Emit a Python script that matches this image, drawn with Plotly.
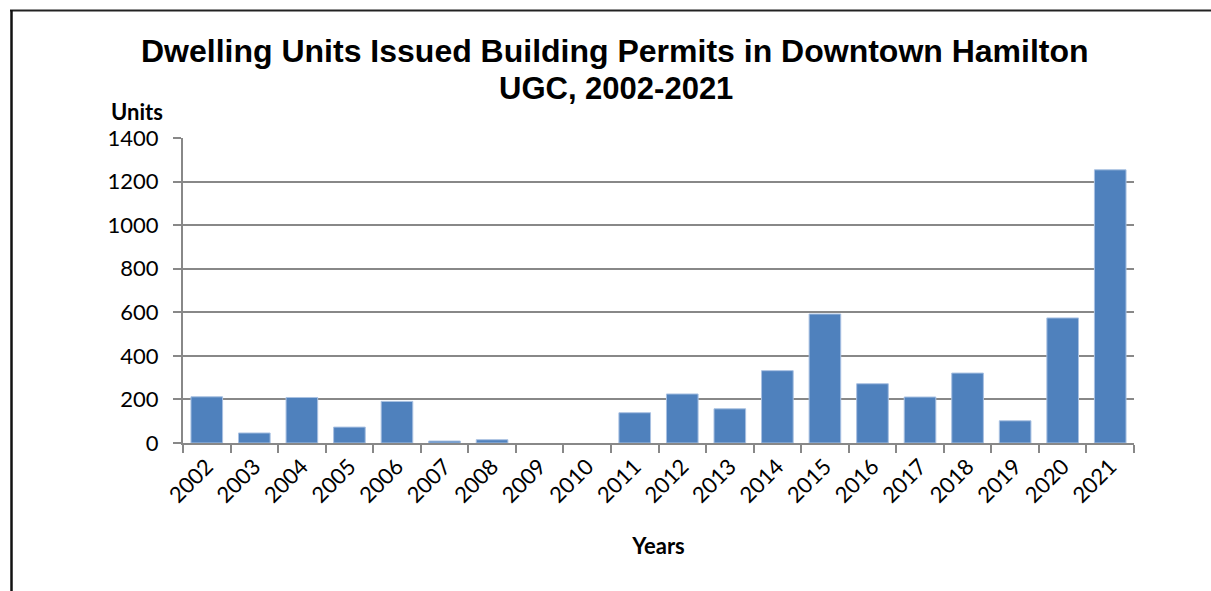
import plotly.graph_objects as go

years = ["2002", "2003", "2004", "2005", "2006", "2007", "2008", "2009", "2010", "2011",
         "2012", "2013", "2014", "2015", "2016", "2017", "2018", "2019", "2020", "2021"]
units = [212, 46, 209, 73, 191, 9, 15, 0, 0, 139,
         225, 157, 332, 592, 272, 211, 321, 102, 574, 1254]
y_ticks = [0, 200, 400, 600, 800, 1000, 1200, 1400]
title_lines = ["Dwelling Units Issued Building Permits in Downtown Hamilton", "UGC, 2002-2021"]

W, H = 1211, 591
L, R, T, B = 183, 77, 138, 148
pw, ph = W - L - R, H - T - B

def px(x):
    return (x - L) / pw

def py(y):
    return (H - B - y) / ph

fig = go.Figure(go.Bar(
    x=years, y=units,
    marker=dict(color="#4F81BD",
                line=dict(color="#A9C1E2", width=[0 if v == 0 else 1 for v in units])),
))

annotations = [
    dict(text="<b>" + title_lines[0] + "</b>", x=px(615), y=py(51), xref="paper", yref="paper",
         showarrow=False, font=dict(family="Liberation Sans, Arial", size=32, color="black"),
         xanchor="center", yanchor="middle"),
    dict(text="<b>" + title_lines[1] + "</b>", x=px(616), y=py(88), xref="paper", yref="paper",
         showarrow=False, font=dict(family="Liberation Sans, Arial", size=31, color="black"),
         xanchor="center", yanchor="middle"),
    dict(text="<b>Units</b>", x=px(137), y=py(112), xref="paper", yref="paper",
         showarrow=False, font=dict(size=22, family="Lato", color="black"),
         xanchor="center", yanchor="middle"),
]

fig.update_layout(
    width=W, height=H,
    margin=dict(l=L, r=R, t=T, b=B),
    paper_bgcolor="white", plot_bgcolor="white",
    bargap=0.335,
    showlegend=False,
    font=dict(family="Lato, Carlito, Calibri", color="black"),
    xaxis=dict(
        type="category",
        tickangle=-45,
        tickfont=dict(size=22, family="Lato", color="black"),
        showline=True, linecolor="#888888", linewidth=2,
        ticks="outside", ticklen=8, tickcolor="#888888", tickwidth=2,
        tickson="boundaries",
        showgrid=False,
        title=dict(text="<b>Years</b>", font=dict(size=22, family="Lato"), standoff=32),
    ),
    yaxis=dict(
        range=[0, 1400],
        tickvals=y_ticks,
        tickfont=dict(size=22, family="Lato", color="black"),
        ticklabelstandoff=10,
        showline=True, linecolor="#888888", linewidth=2,
        ticks="outside", ticklen=8, tickcolor="#888888", tickwidth=2,
        showgrid=True, gridcolor="#888888", gridwidth=2,
        zeroline=False,
    ),
    annotations=annotations,
    shapes=[
        dict(type="line", xref="paper", yref="paper",
             x0=px(10), x1=px(W + 5), y0=py(10.5), y1=py(10.5),
             line=dict(color="#222222", width=2)),
        dict(type="line", xref="paper", yref="paper",
             x0=px(11.5), x1=px(11.5), y0=py(10), y1=py(H + 5),
             line=dict(color="#111111", width=2.5)),
    ],
)

fig.write_html("out.html", config={"displayModeBar": False})

with open("out.html", "r", encoding="utf-8") as f:
    html = f.read()
html = html.replace("<head>", "<head><style>html,body{margin:0;padding:0;overflow:hidden;}</style>", 1)
with open("out.html", "w", encoding="utf-8") as f:
    f.write(html)
